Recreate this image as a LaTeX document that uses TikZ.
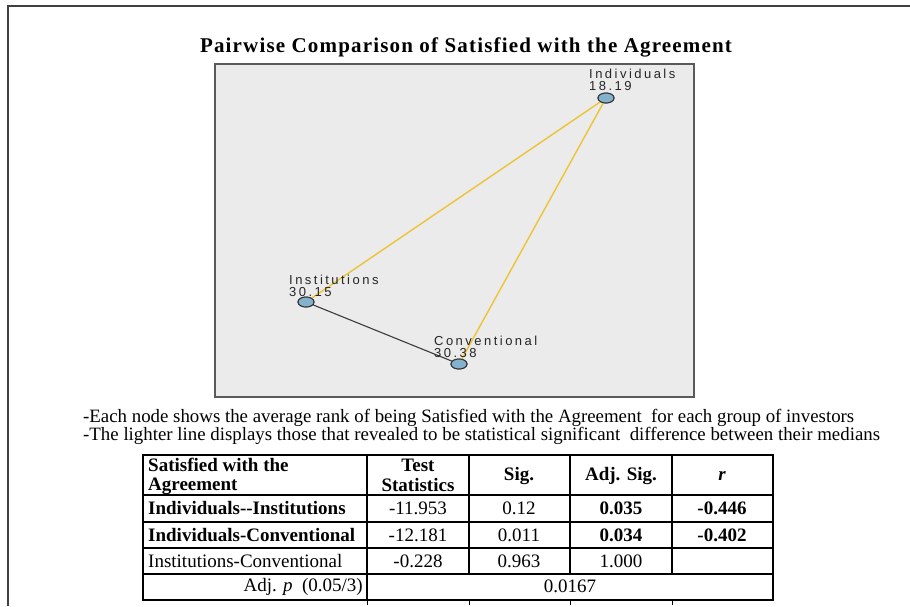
\documentclass[tikz,border=0pt]{standalone}
\usepackage{fontspec}
\setmainfont{Liberation Serif}
\newfontfamily\plotfont{Liberation Sans}[LetterSpace=19]
\newfontfamily\titlefont{Liberation Serif}[LetterSpace=5.6,BoldFont={Liberation Serif Bold}]
\usetikzlibrary{shapes.geometric}
\definecolor{panelgray}{RGB}{235,235,235}
\definecolor{panelline}{RGB}{90,90,90}
\definecolor{nodeblue}{RGB}{130,178,205}
\definecolor{sigline}{RGB}{236,196,52}
\definecolor{plainline}{RGB}{60,60,60}
\newcommand{\cellsize}{\fontsize{19}{20}\selectfont}
\newcommand{\notesize}{\fontsize{18.85}{20}\selectfont}
\tikzset{
  x=1pt, y=-1pt,
  groupnode/.style={ellipse, draw=black!80, line width=1pt, fill=nodeblue,
    minimum width=16pt, minimum height=10pt, inner sep=0pt},
  grouplabel/.style={anchor=west, inner sep=0pt, align=left,
    font=\plotfont\fontsize{13}{12.5}\selectfont, text=black!85},
  sigedge/.style={draw=sigline, line width=1.4pt},
  plainedge/.style={draw=plainline, line width=1.1pt},
  cell/.style={inner sep=0pt, font=\cellsize},
  bcell/.style={cell, font=\bfseries\cellsize},
  lcell/.style={cell, anchor=west},
  lbcell/.style={bcell, anchor=west},
  rcell/.style={cell, anchor=east},
  grid/.style={line width=1.6pt, line cap=rect},
  note/.style={anchor=west, inner sep=0pt, font=\notesize},
}
\begin{document}
\begin{tikzpicture}
\useasboundingbox (0,0) rectangle (910,606);
% outer frame (top and left edges)
\draw[line width=1.5pt, draw=black!75] (8,606) -- (8,6) -- (910,6);

% title
\node[inner sep=0pt, font=\titlefont\bfseries\fontsize{21}{22}\selectfont] (title) at (466,47)
  {Pairwise Comparison of Satisfied with the Agreement};

% plot panel
\draw[fill=panelgray, draw=panelline, line width=1.4pt] (215,64) rectangle (694,397);

% group nodes
\node[groupnode] (ind) at (606,98) {};
\node[groupnode] (ins) at (306,302) {};
\node[groupnode] (con) at (459,364) {};

% pairwise connectors
\draw[sigedge] (ind) -- (ins);
\draw[sigedge] (ind) -- (con);
\draw[plainedge] (ins) -- (con);
\node[groupnode] at (ind) {};
\node[groupnode] at (ins) {};
\node[groupnode] at (con) {};

% group labels
\node[grouplabel] (indlab) at (589,80) {Individuals\\18.19};
\node[grouplabel] (inslab) at (289,286) {Institutions\\30.15};
\node[grouplabel] (conlab) at (434,347) {Conventional\\30.38};

% notes
\node[note] (note1) at (83,418) {-Each node shows the average rank of being Satisfied with the Agreement\ \ for each group of investors};
\node[note] (note2) at (83,436) {-The lighter line displays those that revealed to be statistical significant\ \ difference between their medians};

% table grid
\draw[grid] (143,455) rectangle (773,600);
\foreach \yy in {495,522,548,574} \draw[grid] (143,\yy) -- (773,\yy);
\foreach \xx in {469,570,672} \draw[grid] (\xx,455) -- (\xx,574);
\draw[grid] (367,455) -- (367,600);
\foreach \xx in {367,469,570,672} \draw[line width=0.8pt] (\xx,600) -- (\xx,605);

% header row
\node[lbcell] (h1) at (148,465) {Satisfied with the};
\node[lbcell] (h1b) at (148,486) {Agreement};
\node[bcell] (h2) at (418,465) {Test};
\node[bcell] (h2b) at (418,485) {Statistics};
\node[bcell] (h3) at (519,476) {Sig.};
\node[bcell] (h4) at (621,476) {Adj. Sig.};
\node[cell, font=\bfseries\itshape\cellsize] (h5) at (722,476) {r};

% row 1
\node[lbcell] (r1a) at (148,508) {Individuals-{}-Institutions};
\node[cell] (r1b) at (418,508) {-11.953};
\node[cell] (r1c) at (519,508) {0.12};
\node[bcell] (r1d) at (621,508) {0.035};
\node[bcell] (r1e) at (722,508) {-0.446};

% row 2
\node[lbcell] (r2a) at (148,535) {Individuals-Conventional};
\node[cell] (r2b) at (418,535) {-12.181};
\node[cell] (r2c) at (519,535) {0.011};
\node[bcell] (r2d) at (621,535) {0.034};
\node[bcell] (r2e) at (722,535) {-0.402};

% row 3
\node[lcell] (r3a) at (148,561) {Institutions-Conventional};
\node[cell] (r3b) at (418,561) {-0.228};
\node[cell] (r3c) at (519,561) {0.963};
\node[cell] (r3d) at (621,561) {1.000};

% adjusted alpha row
\node[rcell] (r4a) at (363,587) {Adj. \textit{p}\ \ (0.05/3)};
\node[cell] (r4b) at (570,586) {0.0167};
\end{tikzpicture}
\end{document}
